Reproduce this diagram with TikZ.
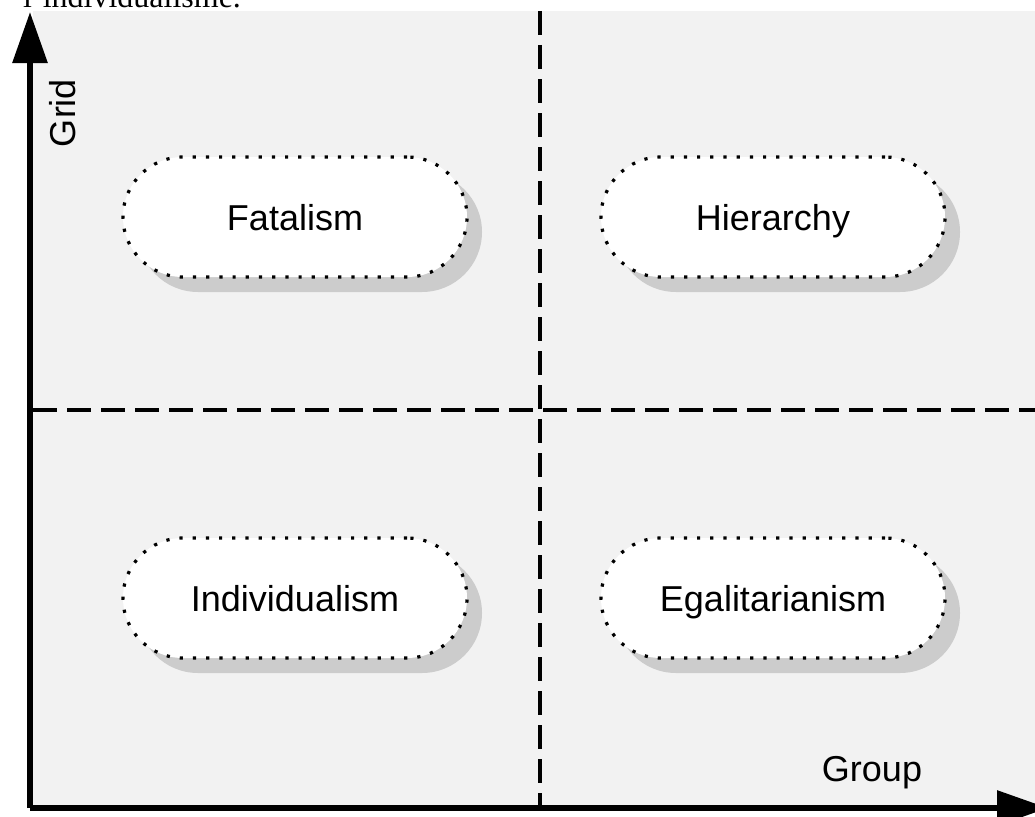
\documentclass[tikz,border=0pt]{standalone}
\usepackage{fontspec}
\setmainfont{Liberation Sans}
\newfontfamily\serifface{Liberation Serif}
\usetikzlibrary{arrows.meta,shadows}
\definecolor{panel}{gray}{0.95}
\definecolor{shade}{gray}{0.80}
\tikzset{
  axis/.style={line width=6pt, -{Triangle[length=51pt,width=34pt]}},
  divider/.style={line width=4pt, dash pattern=on 24pt off 10pt},
  pill/.style={draw=black, fill=white, line width=3.2pt,
    dash pattern=on 3.2pt off 10pt, rounded corners=60pt,
    minimum width=344pt, minimum height=120pt, inner sep=0pt,
    text height=26pt, text depth=0pt,
    font=\fontsize{36}{43}\selectfont,
    drop shadow={shadow xshift=15pt, shadow yshift=-15pt, fill=shade, opacity=1}},
  axislabel/.style={font=\fontsize{36}{43}\selectfont, inner sep=0pt}
}
\begin{document}
\begin{tikzpicture}[x=1pt,y=-1pt]
  \useasboundingbox (0,0) rectangle (1035,816);
  \clip (0,0) rectangle (1035,816);
  % caption line above the chart, cut by the page edge
  \node[anchor=base west, inner sep=0pt, font=\serifface\fontsize{32}{38}\selectfont] (cap) at (23,8) {l’individualisme.};
  % panel
  \fill[panel] (33,11) rectangle (1035,805);
  % reference points
  \coordinate (O) at (30,808);
  \coordinate (ytip) at (30,12);
  \coordinate (xtip) at (1048,808);
  \coordinate (vtop) at (540,11);
  \coordinate (vbot) at (540,806);
  \coordinate (hl) at (33,410);
  \coordinate (hr) at (1040,410);
  % quadrant dividers
  \draw[divider] (vtop) -- (vbot);
  \draw[divider] (hl) -- (hr);
  % quadrants
  \node[pill] (fat) at (295,217) {Fatalism};
  \node[pill] (hie) at (773,217) {Hierarchy};
  \node[pill] (ind) at (295,598) {Individualism};
  \node[pill] (ega) at (773,598) {Egalitarianism};
  % axes
  \draw[axis] (O) -- (ytip);
  \draw[axis] (O) -- (xtip);
  \node[axislabel, rotate=90] (grid) at (63,113) {Grid};
  \node[axislabel] (group) at (872,773) {Group};
\end{tikzpicture}
\end{document}
